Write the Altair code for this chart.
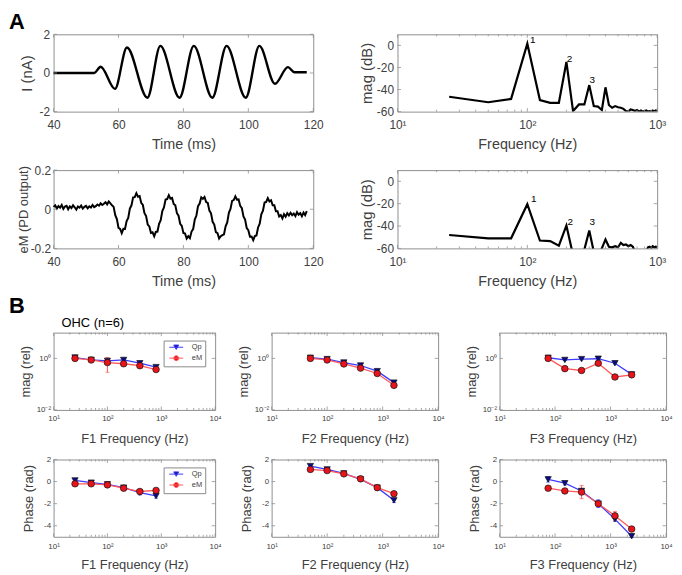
import altair as alt
import pandas as pd

# ---------------- Panel A data ----------------
stim_t = [40, 52.5, 54.5, 58.9, 62.6, 68.9, 72.9, 78.8, 83.2, 88.9, 93.3, 99.2, 103.4, 108.2, 112.2, 114.2, 118]
stim_i = [0, 0, 0.32, -0.82, 1.32, -1.28, 1.40, -1.28, 1.40, -1.28, 1.40, -1.28, 1.40, -0.56, 0.30, 0.04, 0.04]

em_start = 40.0
em_step = 0.5
em_v = [0.012, 0.020, 0.004, 0.016, 0.008, 0.022, 0.002, 0.014, 0.018, 0.000, 0.015, 0.006, 0.020, 0.010, -0.002,
        0.014, 0.008, 0.019, 0.003, 0.012, 0.017, 0.005, 0.015, 0.009, 0.022, 0.011, 0.016, 0.024, 0.018, 0.030, 0.022,
        0.028, 0.036, 0.025, 0.040, 0.030,
        0.020, 0.012, -0.030, -0.050, -0.095, -0.100, -0.122,
        -0.100, -0.101, -0.060, -0.044, 0.004, 0.020, 0.061, 0.062, 0.082,
        0.064, 0.067, 0.033, 0.022, -0.020, -0.035, -0.078, -0.088, -0.121, -0.118, -0.138,
        -0.116, -0.114, -0.074, -0.056, -0.009, 0.009, 0.050, 0.052, 0.072,
        0.054, 0.058, 0.027, 0.020, -0.020, -0.033, -0.074, -0.085, -0.121, -0.124, -0.150, -0.138,
        -0.148, -0.114, -0.101, -0.053, -0.032, 0.016, 0.029, 0.061, 0.053,
        0.063, 0.037, 0.032, -0.007, -0.021, -0.064, -0.078, -0.117, -0.122, -0.150, -0.138,
        -0.132, -0.128, -0.087, -0.067, -0.018, 0.002, 0.043, 0.047, 0.066,
        0.049, 0.050, 0.017, 0.006, -0.037, -0.053, -0.096, -0.107, -0.140, -0.139, -0.158,
        -0.137, -0.134, -0.093, -0.074, -0.026, -0.007, 0.034, 0.037, 0.057,
        0.040, 0.046, 0.020, 0.020, -0.010, -0.010, -0.037, -0.030, -0.047,
        -0.025, -0.038, -0.020, -0.032, -0.018, -0.030, -0.022, -0.035, -0.015, -0.028, -0.020, -0.036, -0.017,
        -0.030, -0.010]

spec_f = [25, 50, 75, 100, 125, 150, 175, 200, 225, 250, 275, 300, 325, 350, 375, 400, 425, 450, 475, 500,
          525, 550, 575, 600, 625, 650, 675, 700, 725, 750, 775, 800, 825, 850, 875, 900, 925, 950, 975, 1000]
spec_stim_db = [-46.5, -51.5, -48.5, 1.5, -49.5, -52, -52, -15, -59.5, -53.5, -53.5, -36, -55, -55.5, -58.5, -38,
                -54, -56.5, -55, -56, -56.5, -57.5, -59.5, -60, -58, -58.5, -59.5, -58.5, -60, -59, -60, -59.5,
                -59, -60, -59.5, -60, -59, -60, -59, -59.5]
spec_em_db = [-48, -51, -51, -20.5, -53, -53.5, -57.5, -39.5, -66, -66, -61, -44, -63, -66, -60, -52,
              -58.5, -59, -58, -59, -55, -57, -56.5, -58, -57, -58.5, -63, -66, -66, -65, -66, -64,
              -63, -59, -58.5, -59.5, -58, -59, -58.5, -59]
harm_lab = ["1", "2", "3"]
harm_stim_f = [110, 211, 316]
harm_stim_db = [5, -12.5, -31]
harm_em_f = [112, 214, 316]
harm_em_db = [-16, -36, -36]

# ---------------- Panel B data ----------------
series = ["Qp", "eM"]
f1 = [25, 50, 100, 200, 400, 800]
f2 = [50, 100, 200, 400, 800, 1600]
f3 = [75, 150, 300, 600, 1200, 2400]

mag1_qp = [1.08, 0.88, 0.80, 0.87, 0.65, 0.46]
mag1_em = [1.0, 0.87, 0.69, 0.62, 0.52, 0.37]
mag1_qp_err = [0.08, 0.06, 0.08, 0.08, 0.06, 0.04]
mag1_em_err = [0.12, 0.10, 0.40, 0.10, 0.08, 0.05]
mag2_qp = [1.06, 0.94, 0.69, 0.53, 0.32, 0.115]
mag2_em = [1.0, 0.87, 0.61, 0.42, 0.26, 0.09]
mag2_qp_err = [0.06, 0.05, 0.05, 0.04, 0.03, 0.01]
mag2_em_err = [0.08, 0.06, 0.06, 0.05, 0.03, 0.01]
mag3_qp = [1.06, 0.87, 0.94, 0.97, 0.65, 0.24]
mag3_em = [1.0, 0.40, 0.34, 0.65, 0.19, 0.23]
mag3_qp_err = [0.06, 0.05, 0.05, 0.05, 0.05, 0.02]
mag3_em_err = [0.06, 0.04, 0.04, 0.06, 0.02, 0.02]

ph1_qp = [0.1, -0.1, -0.25, -0.55, -1.0, -1.3]
ph1_em = [-0.2, -0.2, -0.3, -0.6, -0.9, -0.8]
ph1_qp_err = [0.15, 0.1, 0.1, 0.2, 0.2, 0.2]
ph1_em_err = [0.1, 0.1, 0.15, 0.2, 0.2, 0.15]
ph2_qp = [1.4, 1.1, 0.74, 0.2, -0.55, -1.7]
ph2_em = [1.1, 1.0, 0.7, 0.25, -0.55, -1.1]
ph2_qp_err = [0.15, 0.1, 0.1, 0.15, 0.15, 0.2]
ph2_em_err = [0.15, 0.1, 0.1, 0.15, 0.15, 0.2]
ph3_qp = [0.2, -0.15, -0.85, -2.0, -3.4, -4.95]
ph3_em = [-0.6, -0.85, -0.95, -2.0, -3.1, -4.3]
ph3_qp_err = [0.25, 0.15, 0.2, 0.35, 0.2, 0.1]
ph3_em_err = [0.1, 0.15, 0.6, 0.2, 0.4, 0.15]

# axis tick positions (MATLAB-style inward ticks)
time_ticks = [40, 60, 80, 100, 120]
log_major_a = [10, 100, 1000]
log_minor_a = [20, 30, 40, 50, 60, 70, 80, 90, 200, 300, 400, 500, 600, 700, 800, 900]
log_major_b = [10, 100, 1000, 10000]
log_minor_b = log_minor_a + [2000, 3000, 4000, 5000, 6000, 7000, 8000, 9000]

# ---------------- styling ----------------
FONT = "Liberation Sans"
TXT = "#404040"
FRAME = "#8f8f8f"
QP_LINE = "#3c3cff"
EM_LINE = "#ff5a5a"
QP_MARK = "#0b0b8a"
EM_MARK = "#e8141c"
PATH_TRI = "M-2.8,0H2.8M-1,-0.9H1L0,0.9Z"
PATH_CIR = "M-2.8,0H2.8M-1,0A1,1,0,1,0,1,0A1,1,0,1,0,-1,0Z"

INT_EXPR = "(datum.value < 0 ? '-' : '') + format(abs(datum.value), 'd')"
DEC_EXPR = "datum.value == 0 ? '0' : (datum.value < 0 ? '-' : '') + format(abs(datum.value), '.1f')"
LOG_EXPR = ("datum.value < 0.05 ? '10\u207b\u00b2' : datum.value < 5 ? '10\u2070' : "
            "datum.value < 50 ? '10\u00b9' : datum.value < 500 ? '10\u00b2' : "
            "datum.value < 5000 ? '10\u00b3' : '10\u2074'")

ONE = pd.DataFrame({"k": [0]})


def make_axis(title, values, expr, lfs, tfs, lpad, ext, tpad):
    return alt.Axis(title=title, values=values, labelExpr=expr, labelFontSize=lfs,
                    titleFontSize=tfs, labelPadding=lpad, minExtent=ext, maxExtent=ext,
                    titlePadding=tpad, ticks=False, domain=False, grid=False,
                    labelFlush=False, labelOverlap=False)


def anchor(W, H, L, R, T, B):
    return alt.Chart(ONE).mark_rect(opacity=0).encode(
        x=alt.value(-L), x2=alt.value(W + R), y=alt.value(-T), y2=alt.value(H + B))


def label(txt, x, y, size, bold=False):
    return alt.Chart(ONE).mark_text(text=txt, align="left", baseline="top", fontSize=size,
                                    fontWeight="bold" if bold else "normal", font=FONT,
                                    color="black").encode(x=alt.value(x), y=alt.value(y))


def tick_layers(W, H, xs, xax, xmaj, xmin, ys, yax, ymaj):
    out = []
    for vals, ln in ((xmaj, 3.5), (xmin, 2)):
        if vals:
            d = alt.Chart(pd.DataFrame({"tx": vals}))
            X = alt.X("tx:Q", scale=xs, axis=xax)
            out.append(d.mark_rule(color=FRAME, strokeWidth=0.8).encode(x=X, y=alt.value(H), y2=alt.value(H - ln)))
            out.append(d.mark_rule(color=FRAME, strokeWidth=0.8).encode(x=X, y=alt.value(0), y2=alt.value(ln)))
    d = alt.Chart(pd.DataFrame({"ty": ymaj}))
    Y = alt.Y("ty:Q", scale=ys, axis=yax)
    out.append(d.mark_rule(color=FRAME, strokeWidth=0.8).encode(y=Y, x=alt.value(0), x2=alt.value(3.5)))
    out.append(d.mark_rule(color=FRAME, strokeWidth=0.8).encode(y=Y, x=alt.value(W), x2=alt.value(W - 3.5)))
    return out


def indep(c):
    return c.resolve_scale(fill="independent", stroke="independent", shape="independent",
                           color="independent").resolve_legend(
        fill="independent", stroke="independent", shape="independent", color="independent")


AW = 262
time_axis = make_axis("Time (ms)", time_ticks, INT_EXPR, 12, 14.5, 8, 20, 6)
freq_axis = make_axis("Frequency (Hz)", log_major_a, LOG_EXPR, 12, 14.5, 8, 20, 6)
db_axis = make_axis("mag (dB)", [-60, -40, -20, 0], INT_EXPR, 12, 15, 4, 22, 1)
time_scale = alt.Scale(domain=[40, 120], nice=False)

stim_df = pd.DataFrame({"t": stim_t, "v": stim_i})
stim_scale = alt.Scale(domain=[-2, 2], nice=False)
stim_axis = make_axis("I (nA)", [-2, 0, 2], INT_EXPR, 12, 15, 4, 16, 3)
A1L = alt.layer(
    anchor(AW, 78, 45, 41, 15, 41),
    alt.Chart(stim_df).mark_line(color="black", strokeWidth=2.4, interpolate="monotone").encode(
        x=alt.X("t:Q", scale=time_scale, axis=time_axis),
        y=alt.Y("v:Q", scale=stim_scale, axis=stim_axis)),
    *tick_layers(AW, 78, time_scale, time_axis, time_ticks, [], stim_scale, stim_axis, [-2, 0, 2]),
    label("A", -45, -22, 22, True),
).properties(width=AW, height=78)


def spectrum(db, hf, hdb, H, T, B):
    sdf = pd.DataFrame({"f": spec_f, "db": db})
    hdf = pd.DataFrame({"f": hf, "db": hdb, "lab": harm_lab})
    xs = alt.Scale(type="log", domain=[10, 1000], nice=False)
    ys = alt.Scale(domain=[-60, 10], nice=False)
    X = alt.X("f:Q", scale=xs, axis=freq_axis)
    Y = alt.Y("db:Q", scale=ys, axis=db_axis)
    return alt.layer(
        anchor(AW, H, 42, 14, T, B),
        alt.Chart(sdf).mark_line(color="black", strokeWidth=2.2, clip=True).encode(x=X, y=Y),
        alt.Chart(hdf).mark_text(fontSize=10, color="black", font=FONT).encode(x=X, y=Y, text="lab:N"),
        *tick_layers(AW, H, xs, freq_axis, log_major_a, log_minor_a, ys, db_axis, [-60, -40, -20, 0]),
    ).properties(width=AW, height=H)


A1R = spectrum(spec_stim_db, harm_stim_f, harm_stim_db, 78, 15, 41)

em_df = pd.DataFrame({"t": [em_start + em_step * i for i in range(len(em_v))], "v": em_v})
em_scale = alt.Scale(domain=[-0.2, 0.2], nice=False)
em_axis = make_axis("eM (PD output)", [-0.2, 0, 0.2], DEC_EXPR, 12, 13, 3, 23, 0)
A2L = alt.layer(
    anchor(AW, 79, 45, 41, 16, 42),
    alt.Chart(em_df).mark_line(color="black", strokeWidth=2.0).encode(
        x=alt.X("t:Q", scale=time_scale, axis=time_axis),
        y=alt.Y("v:Q", scale=em_scale, axis=em_axis)),
    *tick_layers(AW, 79, time_scale, time_axis, time_ticks, [], em_scale, em_axis, [-0.2, 0, 0.2]),
).properties(width=AW, height=79)

A2R = spectrum(spec_em_db, harm_em_f, harm_em_db, 79, 16, 42)


def b_panel(freqs, qp, em, qp_err, em_err, kind, xtitle, W, L, R, T, B, H, xpad, xtpad,
            legend=False, extra=()):
    rows = []
    for s, vals, errs in (("Qp", qp, qp_err), ("eM", em, em_err)):
        for f, v, e in zip(freqs, vals, errs):
            lo = v - e
            if kind == "mag":
                lo = max(lo, 0.012)
            rows.append({"f": f, "val": v, "lo": lo, "hi": v + e, "s": s})
    df = pd.DataFrame(rows)
    xs = alt.Scale(type="log", domain=[10, 10000], nice=False)
    xax = make_axis(xtitle, log_major_b, LOG_EXPR, 8, 13, xpad, 17, xtpad)
    X = alt.X("f:Q", scale=xs, axis=xax)
    if kind == "mag":
        ysc = alt.Scale(type="log", domain=[0.01, 10], nice=False)
        yax = make_axis("mag (rel)", [0.01, 1], LOG_EXPR, 8, 13, 3, 18, 3)
        ymaj = [0.01, 1]
    else:
        ysc = alt.Scale(domain=[-5, 2], nice=False)
        yax = make_axis("Phase (rad)", [-4, -2, 0, 2], INT_EXPR, 8, 13, 3, 14, 4)
        ymaj = [-4, -2, 0, 2]

    def Y(field):
        return alt.Y(field + ":Q", scale=ysc, axis=yax)

    base = alt.Chart(df)
    layers = [anchor(W, H, L, R, T, B)]
    layers.extend(tick_layers(W, H, xs, xax, log_major_b, log_minor_b, ysc, yax, ymaj))
    styles = (("Qp", QP_LINE, QP_MARK, "triangle-down", 40), ("eM", EM_LINE, EM_MARK, "circle", 44))
    for s, lc, mc, shp, sz in styles:
        layers.append(base.transform_filter(alt.datum.s == s).mark_line(
            color=lc, strokeWidth=1.3).encode(x=X, y=Y("val")))
    for s, lc, mc, shp, sz in styles:
        sub = base.transform_filter(alt.datum.s == s)
        layers.append(sub.mark_rule(color=lc, strokeWidth=1).encode(x=X, y=Y("lo"), y2="hi:Q"))
        layers.append(sub.mark_tick(orient="horizontal", color=lc, size=4, thickness=1).encode(x=X, y=Y("lo")))
        layers.append(sub.mark_tick(orient="horizontal", color=lc, size=4, thickness=1).encode(x=X, y=Y("hi")))
    for s, lc, mc, shp, sz in styles:
        layers.append(base.transform_filter(alt.datum.s == s).mark_point(
            filled=True, shape=shp, size=sz, fill=mc, stroke="#111111", strokeWidth=0.7,
            opacity=1).encode(x=X, y=Y("val")))
    if legend:
        leg = alt.Legend(title=None, orient="none", legendX=W - 52, legendY=8, labelFontSize=7.5,
                         labelColor=TXT, labelFont=FONT, symbolSize=25, symbolStrokeWidth=1,
                         symbolOpacity=1, padding=3, rowPadding=2, strokeColor="#8a8a8a",
                         fillColor="white", symbolOffset=6, labelOffset=12, cornerRadius=0)
        ldf = pd.DataFrame({"s": series, "f": [freqs[0]] * 2, "val": [qp[0], em[0]]})
        layers.append(alt.Chart(ldf).mark_point(filled=True, opacity=0).encode(
            x=X, y=Y("val"),
            fill=alt.Fill("s:N", scale=alt.Scale(domain=series, range=[QP_MARK, EM_MARK]), legend=leg),
            stroke=alt.Stroke("s:N", scale=alt.Scale(domain=series, range=[QP_LINE, EM_LINE]), legend=leg),
            shape=alt.Shape("s:N", scale=alt.Scale(domain=series, range=[PATH_TRI, PATH_CIR]), legend=leg)))
    layers.extend(extra)
    return alt.layer(*layers).properties(width=W, height=H)


BH = 78
B1 = b_panel(f1, mag1_qp, mag1_em, mag1_qp_err, mag1_em_err, "mag", "F1 Frequency (Hz)",
             163, 45, 20, 41, 42, BH, 5, 6, legend=True,
             extra=(label("B", -45, -37, 22, True), label("OHC (n=6)", 8, -16, 13)))
B2 = b_panel(f2, mag2_qp, mag2_em, mag2_qp_err, mag2_em_err, "mag", "F2 Frequency (Hz)",
             168, 35, 25, 41, 42, BH, 5, 6)
B3 = b_panel(f3, mag3_qp, mag3_em, mag3_qp_err, mag3_em_err, "mag", "F3 Frequency (Hz)",
             168, 35, 7, 41, 42, BH, 5, 6)
B4 = b_panel(f1, ph1_qp, ph1_em, ph1_qp_err, ph1_em_err, "phase", "F1 Frequency (Hz)",
             163, 45, 20, 6, 36, BH, 6, 5, legend=True)
B5 = b_panel(f2, ph2_qp, ph2_em, ph2_qp_err, ph2_em_err, "phase", "F2 Frequency (Hz)",
             168, 35, 25, 6, 36, BH, 6, 5)
B6 = b_panel(f3, ph3_qp, ph3_em, ph3_qp_err, ph3_em_err, "phase", "F3 Frequency (Hz)",
             168, 35, 7, 6, 36, BH, 6, 5)

chart = indep(alt.vconcat(
    indep(alt.hconcat(A1L, A1R, spacing=0)),
    indep(alt.hconcat(A2L, A2R, spacing=0)),
    indep(alt.hconcat(B1, B2, B3, spacing=0)),
    indep(alt.hconcat(B4, B5, B6, spacing=0)),
    spacing=0,
)).properties(padding=0).configure_axis(
    labelFont=FONT, titleFont=FONT, labelColor=TXT, titleColor=TXT, titleFontWeight="normal"
).configure_view(stroke=FRAME, strokeWidth=1)

chart.save("out.html", embed_options={"renderer": "svg", "actions": False})
